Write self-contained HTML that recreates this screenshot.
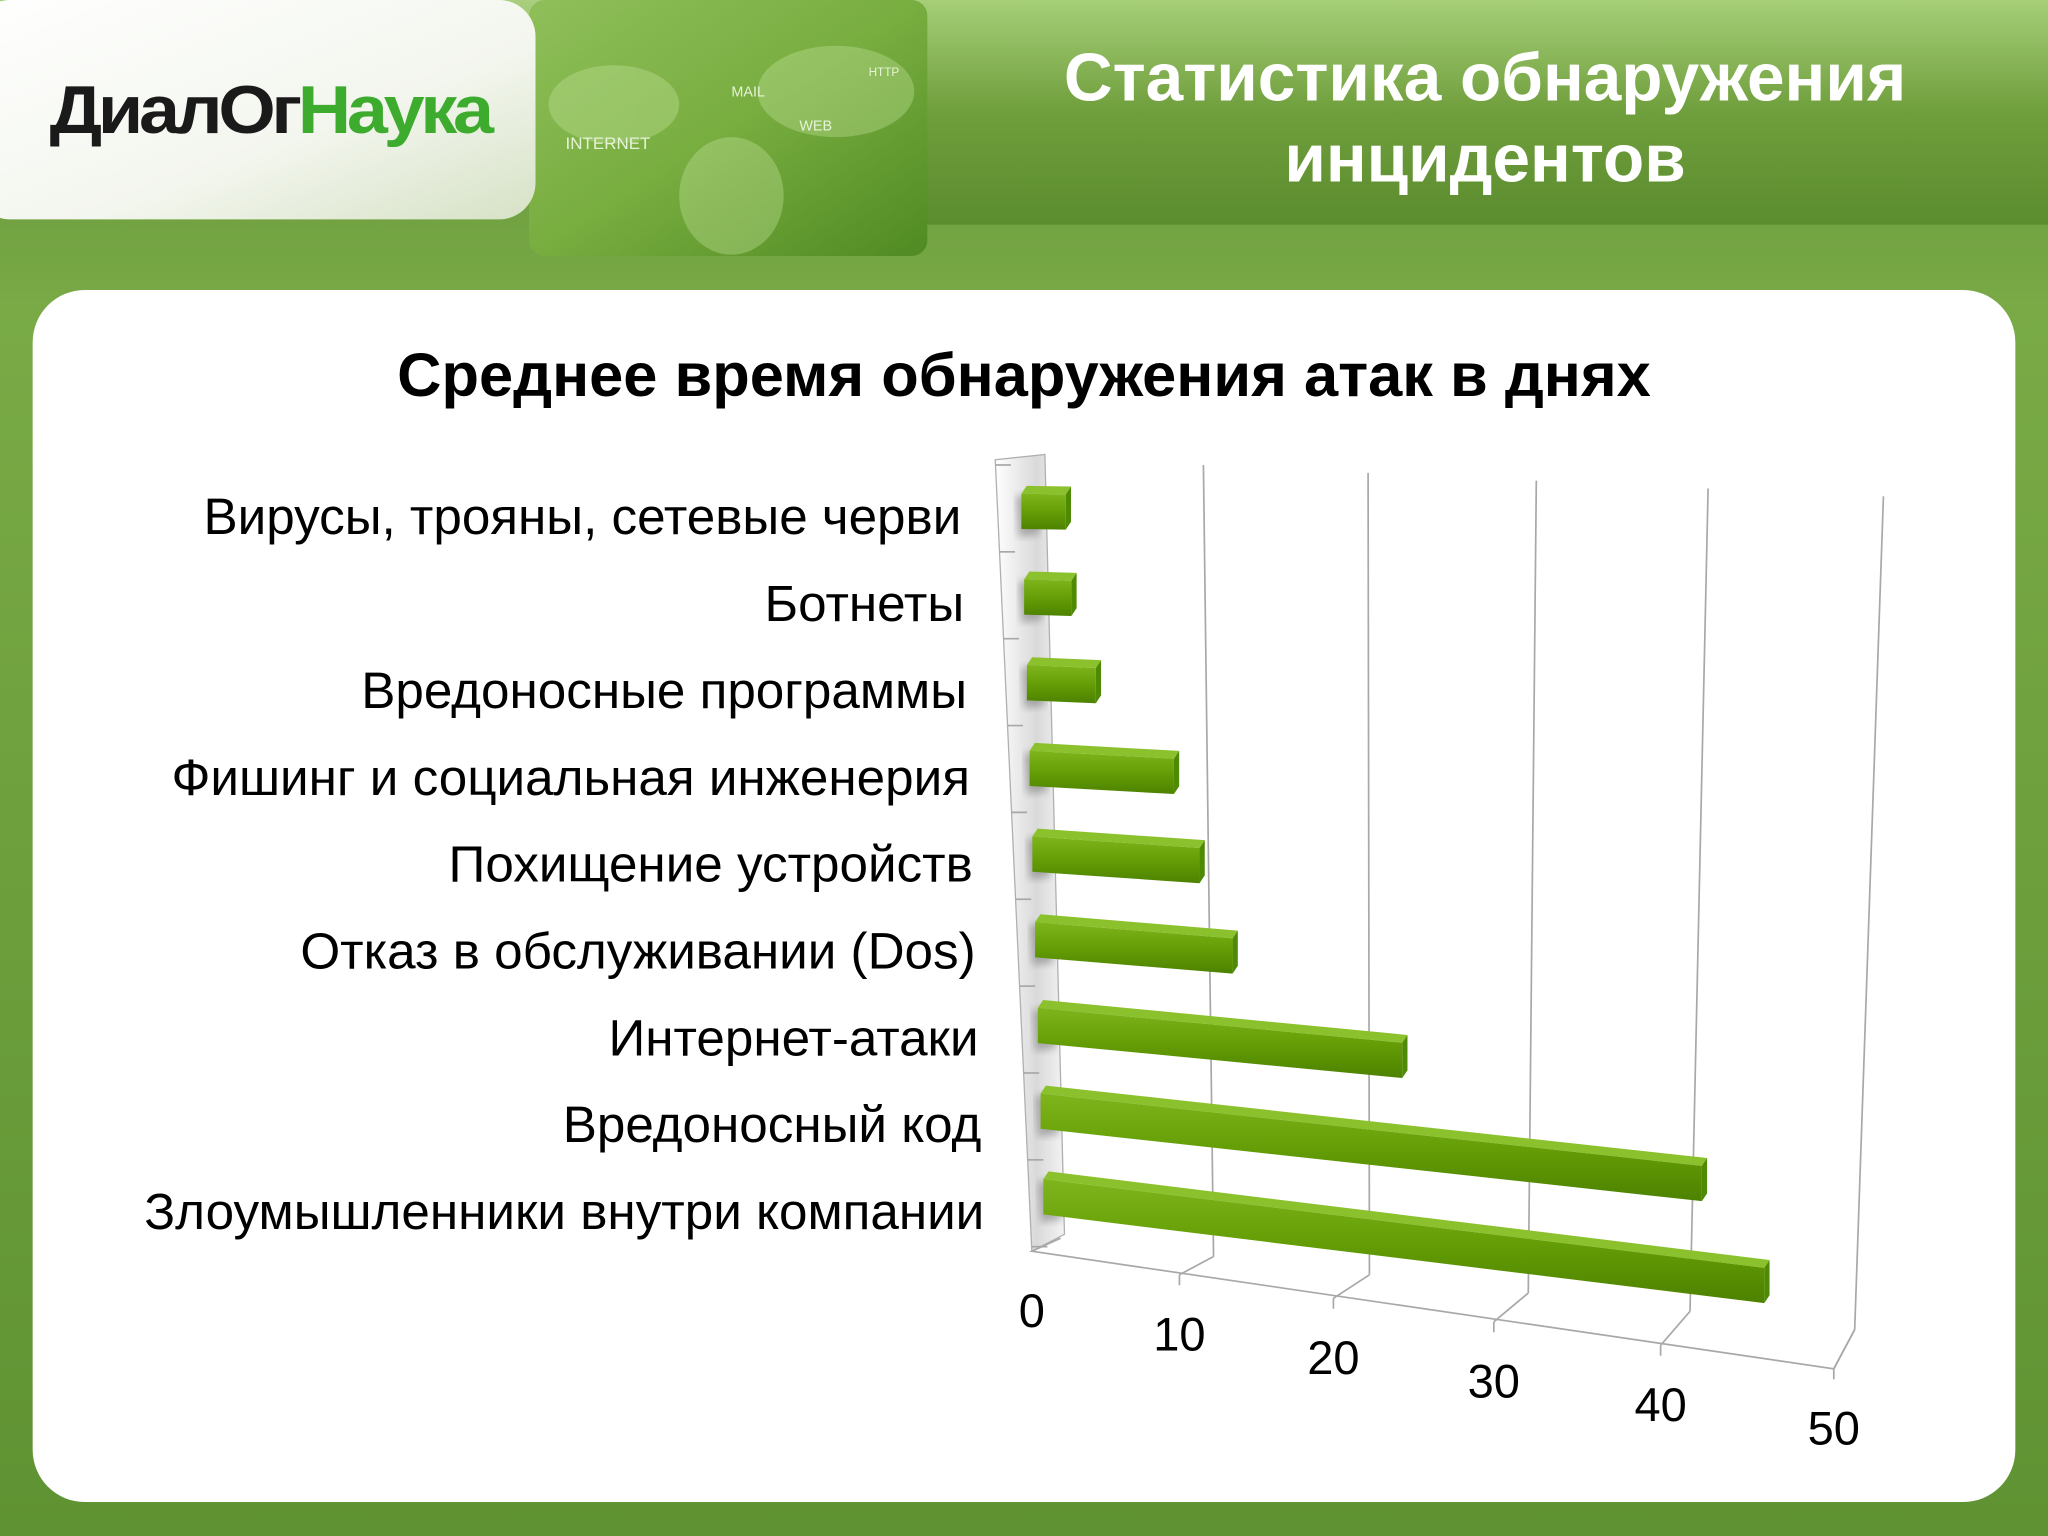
<!DOCTYPE html>
<html><head><meta charset="utf-8"><style>
html,body{margin:0;padding:0;width:2048px;height:1536px;overflow:hidden;background:#6a9e3a;}
svg{display:block}
text{font-family:"Liberation Sans","DejaVu Sans",sans-serif;}
</style></head><body>
<svg id="chart" width="2048" height="1536" viewBox="0 0 1568 1176" xmlns="http://www.w3.org/2000/svg">
<defs>
<linearGradient id="bgG" x1="0" y1="0" x2="0" y2="1"><stop offset="0" stop-color="#a9cf7e"/><stop offset="0.12" stop-color="#6f9f40"/><stop offset="0.2" stop-color="#79aa46"/><stop offset="1" stop-color="#5f9232"/></linearGradient>
<linearGradient id="hdrG" x1="0" y1="0" x2="0" y2="1"><stop offset="0" stop-color="#a6cf78"/><stop offset="0.5" stop-color="#6f9e3c"/><stop offset="1" stop-color="#5b8c2e"/></linearGradient>
<linearGradient id="logoG" x1="0" y1="0" x2="1" y2="1"><stop offset="0" stop-color="#ffffff"/><stop offset="0.6" stop-color="#f3f6ee"/><stop offset="1" stop-color="#d6e2c6"/></linearGradient>
<linearGradient id="mapG" x1="0" y1="0" x2="1" y2="1"><stop offset="0" stop-color="#8fbf5a"/><stop offset="0.5" stop-color="#78ad40"/><stop offset="1" stop-color="#4f8a22"/></linearGradient>
<linearGradient id="wallG" x1="0" y1="0" x2="1" y2="0"><stop offset="0" stop-color="#ffffff"/><stop offset="0.6" stop-color="#d9d9d9"/><stop offset="1" stop-color="#f4f4f4"/></linearGradient>
<linearGradient id="barF" x1="0" y1="0" x2="0" y2="1"><stop offset="0" stop-color="#7fb51c"/><stop offset="0.5" stop-color="#659e06"/><stop offset="1" stop-color="#4d8200"/></linearGradient>
<filter id="blur"><feGaussianBlur stdDeviation="3"/></filter>
</defs>
<rect x="0" y="0" width="1568" height="1176" fill="url(#bgG)"/>
<rect x="700" y="0" width="868" height="172" fill="url(#hdrG)"/>
<rect x="405" y="0" width="305" height="196" rx="12" fill="url(#mapG)"/>
<g opacity="0.35" fill="#c9e8a0">
<ellipse cx="470" cy="80" rx="50" ry="30"/><ellipse cx="560" cy="150" rx="40" ry="45"/><ellipse cx="640" cy="70" rx="60" ry="35"/>
</g>
<text x="560" y="74" font-size="11" fill="#e6f3d6">MAIL</text>
<text x="612" y="100" font-size="11" fill="#e6f3d6">WEB</text>
<text x="433" y="114" font-size="13" fill="#e6f3d6">INTERNET</text>
<text x="665" y="58" font-size="9" fill="#e6f3d6">HTTP</text>
<rect x="-20" y="0" width="430" height="168" rx="28" fill="url(#logoG)"/>
<text x="38" y="102" font-size="52" font-weight="bold" letter-spacing="-3" textLength="337" lengthAdjust="spacingAndGlyphs"><tspan fill="#1a1a1a">ДиалОг</tspan><tspan fill="#3cab2e">Наука</tspan></text>
<text x="1137" y="77" font-size="51.7" font-weight="bold" fill="#ffffff" text-anchor="middle">Статистика обнаружения</text>
<text x="1137" y="139" font-size="51.7" font-weight="bold" fill="#ffffff" text-anchor="middle">инцидентов</text>
<rect x="25" y="222" width="1518" height="928" rx="40" fill="#ffffff"/>
<text x="784" y="303" font-size="47" font-weight="bold" fill="#000" text-anchor="middle">Среднее время обнаружения атак в днях</text>
<g id="plot"></g>
</svg>
<script>
const categories = ["Вирусы, трояны, сетевые черви","Ботнеты","Вредоносные программы","Фишинг и социальная инженерия","Похищение устройств","Отказ в обслуживании (Dos)","Интернет-атаки","Вредоносный код","Злоумышленники внутри компании"];
const values = [2.5, 2.7, 4, 8.5, 10, 12, 22.5, 41.5, 46];
const ticks = [0, 10, 20, 30, 40, 50];

const NS = "http://www.w3.org/2000/svg";
const plot = document.getElementById("plot");
function el(tag, attrs, parent) {
  const e = document.createElementNS(NS, tag);
  for (const k in attrs) e.setAttribute(k, attrs[k]);
  (parent || plot).appendChild(e);
  return e;
}
function rowLeft(i) { return [782 + 2.1 * i, 378 + 65.6 * i]; }
function rowUnit(i) { const ux = 13.6 - 0.2 * i; return [ux, ux * (0.015 + 0.0135 * i)]; }
function barEnd(i, v) { const L = rowLeft(i), u = rowUnit(i); return [L[0] + u[0] * v, L[1] + u[1] * v]; }
function backTop(v) { return [798 + v * 12.2 + v * v * 0.0136, 350 + v * 0.6]; }
function backBot(v) { return [812 + v * 11.6 + v * v * 0.0112, 948 + v * 1.4]; }
function front(v) { return [790 + v * 11.055 + v * v * 0.0245, 958 + v * 1.8]; }

const wall = el("polygon", {points: "762,352 800,348 815,945 790,958", fill: "url(#wallG)", stroke: "#b0b0b0", "stroke-width": 1});


ticks.forEach((t) => {
  if (t === 0) return;
  const a = backTop(t), b = backBot(t), f = front(t);
  const g = el("line", {x1: a[0], y1: a[1], x2: b[0], y2: b[1], stroke: "#a8a8a8", "stroke-width": 1.3});
  
  
  const d = el("line", {x1: b[0], y1: b[1], x2: f[0], y2: f[1], stroke: "#a8a8a8", "stroke-width": 1.3});
  
  
  const tk = el("line", {x1: f[0], y1: f[1], x2: f[0], y2: f[1] + 8, stroke: "#a8a8a8", "stroke-width": 1.3});
  
  
});
const f0 = front(0), f50 = front(50), b0 = backBot(0), b50 = backBot(50);
const fl = el("polyline", {points: `${b0[0]},${b0[1]} ${f0[0]},${f0[1]} ${f50[0]},${f50[1]} ${b50[0]},${b50[1]}`, fill: "none", stroke: "#a8a8a8", "stroke-width": 1.3});


for (let i = 0; i <= categories.length; i++) {
  const y = 356 + 66.5 * i;
  const x = 762 + 3.1 * i;
  const ct = el("line", {x1: x, y1: y, x2: x + 12, y2: y, stroke: "#a8a8a8", "stroke-width": 1.3});
  
  
}
ticks.forEach((t, k) => {
  const f = front(t);
  const tl = el("text", {x: f[0], y: f[1] + 58, "font-size": 36, "text-anchor": "middle", fill: "#000"});
  tl.textContent = t;
  
  
});
categories.forEach((c, i) => {
  const L = rowLeft(i), E = barEnd(i, values[i]);
  const h = 27, d = 6;
  const sh = el("polygon", {points: `${L[0]-4},${L[1]+2} ${L[0]+12},${L[1]} ${L[0]+14},${L[1]+h+4} ${L[0]-2},${L[1]+h+6}`, fill: "#777", opacity: 0.55, filter: "url(#blur)"});
  
  
  const top = el("polygon", {points: `${L[0]+4},${L[1]-d} ${E[0]+4},${E[1]-d} ${E[0]},${E[1]} ${L[0]},${L[1]}`, fill: "#8cc12e"});
  
  
  const fr = el("polygon", {points: `${L[0]},${L[1]} ${E[0]},${E[1]} ${E[0]},${E[1]+h} ${L[0]},${L[1]+h}`, fill: "url(#barF)"});
  
  
  const cap = el("polygon", {points: `${E[0]},${E[1]} ${E[0]+4},${E[1]-d} ${E[0]+4},${E[1]+h-d} ${E[0]},${E[1]+h}`, fill: "#4f8a05"});
  
  
  const lb = el("text", {x: 736 + 2.2 * i, y: 396 + 66.5 * i + 13, "font-size": 39.2, "text-anchor": "end", fill: "#000"});
  lb.textContent = c;
  
  
});
</script>
</body></html>
